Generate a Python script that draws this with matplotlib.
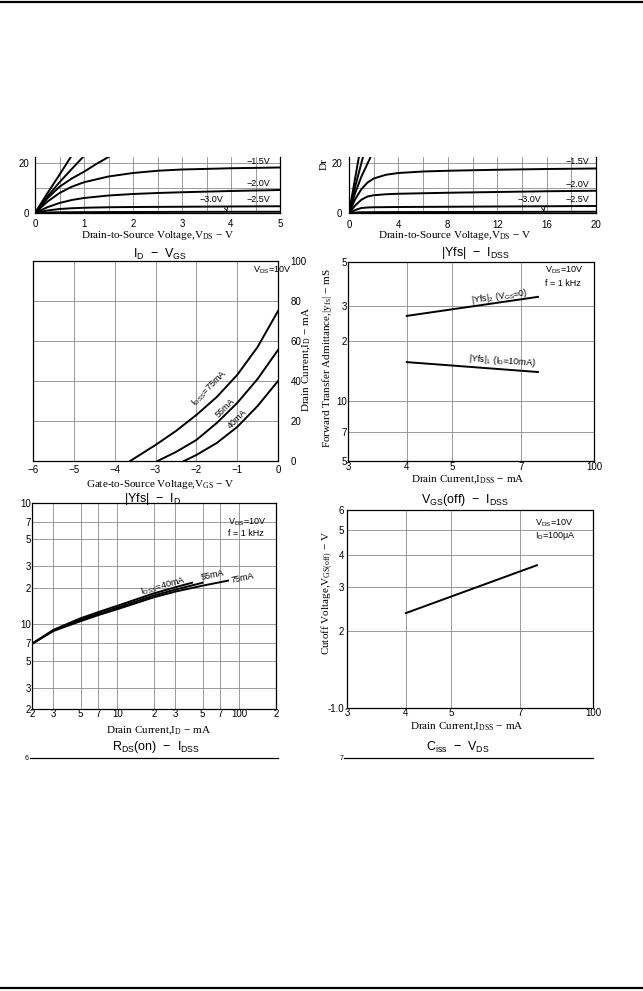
import matplotlib
matplotlib.use("Agg")
import matplotlib.pyplot as plt
from matplotlib.lines import Line2D
from matplotlib.ticker import NullLocator

plt.rcParams['font.family'] = ['Liberation Sans', 'DejaVu Sans']
plt.rcParams['axes.unicode_minus'] = True

# ---- data ----
# ID - VDS, 0..5 V (top left, partly cut)
vds_s = [0, 0.25, 0.5, 0.73]
id_s_vgs0 = [0, 7.8, 15.3, 22.4]
vds_s2 = [0, 0.25, 0.5, 0.75, 0.98]
id_s_vgs05 = [0, 6.5, 12.3, 17.6, 22.4]
vds_s3 = [0, 0.25, 0.5, 0.75, 1.0, 1.25, 1.5]
id_s_vgs10 = [0, 5.8, 10.5, 13.8, 16.5, 19.6, 22.4]
vds_short = [0, 0.25, 0.5, 0.75, 1.0, 1.5, 2, 2.5, 3, 4, 5]
id_s_vgs15 = [0, 4.5, 8.0, 10.5, 12.3, 14.6, 16.0, 16.9, 17.4, 17.9, 18.2]
id_s_vgs20 = [0, 2.3, 4.0, 5.2, 6.0, 7.0, 7.6, 8.0, 8.3, 8.8, 9.2]
id_s_vgs25 = [0, 1.0, 1.6, 1.9, 2.1, 2.3, 2.4, 2.45, 2.5, 2.6, 2.7]
id_s_vgs30 = [0, 0.2, 0.3, 0.32, 0.35, 0.38, 0.4, 0.42, 0.45, 0.48, 0.5]

# ID - VDS, 0..20 V (top right, partly cut)
vdl_a = [0, 0.8]
id_l_vgs0 = [0, 22.4]
vdl_b = [0, 0.5, 1.13]
id_l_vgs05 = [0, 10.5, 22.4]
vdl_c = [0, 0.5, 1.0, 1.75]
id_l_vgs10 = [0, 8.0, 14.5, 22.4]
vds_long = [0, 0.5, 1, 1.5, 2, 3, 4, 6, 8, 12, 16, 20]
id_l_vgs15 = [0, 5.5, 9.5, 12.2, 13.8, 15.3, 16.0, 16.6, 16.9, 17.3, 17.6, 17.8]
id_l_vgs20 = [0, 3.0, 5.3, 6.6, 7.1, 7.5, 7.7, 7.9, 8.1, 8.4, 8.7, 8.9]
id_l_vgs25 = [0, 1.2, 2.0, 2.2, 2.3, 2.35, 2.4, 2.45, 2.5, 2.6, 2.7, 2.8]
id_l_vgs30 = [0, 0.2, 0.3, 0.32, 0.35, 0.37, 0.38, 0.39, 0.4, 0.43, 0.47, 0.5]

# ID - VGS
vgs_75 = [-3.62, -3, -2.5, -2, -1.5, -1, -0.5, 0]
id_75 = [0, 8, 15, 23, 32, 43, 57, 75]
vgs_55 = [-2.95, -2.5, -2, -1.5, -1, -0.5, 0]
id_55 = [0, 4.5, 10.5, 19, 29, 41, 55.5]
vgs_40 = [-2.3, -2, -1.5, -1, -0.5, 0]
id_40 = [0, 3, 9, 17, 27.5, 40]

# |Yfs| - IDSS
idss_pts = [4, 7.6]
yfs2 = [26.8, 33.4]
yfs1 = [15.7, 14.0]

# |Yfs| - ID
id_40m = [2, 3, 5, 7, 10, 20, 30, 41]
yfs_40m = [6.9, 9.0, 11.2, 12.6, 14.2, 18.0, 20.2, 22.0]
id_55m = [2, 3, 5, 7, 10, 20, 30, 50]
yfs_55m = [6.9, 8.9, 10.9, 12.2, 13.7, 17.3, 19.3, 22.0]
id_75m = [2, 3, 5, 7, 10, 20, 30, 50, 81]
yfs_75m = [6.9, 8.8, 10.6, 11.9, 13.3, 16.7, 18.6, 20.8, 22.9]

# VGS(off) - IDSS
vgsoff = [2.36, 3.64]

# tick labels as printed
idss_ticks = [3, 4, 5, 7, 10]
idss_labels = ['3', '4', '5', '7', '100']
yfs_ticks = [5, 7, 10, 20, 30, 50]
yfs_labels = ['5', '7', '10', '2', '3', '5']
idlog_ticks = [2, 3, 5, 7, 10, 20, 30, 50, 70, 100, 200]
idlog_labels = ['2', '3', '5', '7', '10', '2', '3', '5', '7', '100', '2']
yfslog_ticks = [2, 3, 5, 7, 10, 20, 30, 50, 70, 100]
yfslog_labels = ['2', '3', '5', '7', '10', '2', '3', '5', '7', '10']
voff_ticks = [1, 2, 3, 4, 5, 6]
voff_labels = ['-1.0', '2', '3', '4', '5', '6']

# ---- figure ----
W, H = 643, 991
fig = plt.figure(figsize=(W / 100, H / 100), dpi=100)

SERIF = 'Liberation Serif'
GRID = dict(color='#8a8a8a', lw=0.6)
CURVE = dict(color='black', lw=1.4)


def box(l, t, r, b):
    return [l / W, 1 - b / H, (r - l) / W, (b - t) / H]


def ftext(x, y, s, **kw):
    kw.setdefault('ha', 'center')
    kw.setdefault('va', 'center')
    fig.text(x / W, 1 - y / H, s, **kw)


def style(ax, pad=2):
    for sp in ax.spines.values():
        sp.set_linewidth(0.9)
    ax.tick_params(which='both', length=0, labelsize=7, pad=pad)
    ax.set_axisbelow(True)


def sub(s):
    return r'$\mathregular{_{%s}}$' % s


# top left: ID - VDS (0..5 V), cut at top
ax = fig.add_axes(box(35, 157, 280, 213))
style(ax, pad=4)
ax.spines['top'].set_visible(False)
ax.set_xlim(0, 5)
ax.set_ylim(0, 22.4)
ax.set_xticks(range(6))
ax.set_xticks([0.5 * i for i in range(11)], minor=True)
ax.set_yticks([0, 20])
ax.set_yticks([10], minor=True)
ax.grid(which='both', **GRID)
for xs, ys in [(vds_s, id_s_vgs0), (vds_s2, id_s_vgs05), (vds_s3, id_s_vgs10),
               (vds_short, id_s_vgs15), (vds_short, id_s_vgs20),
               (vds_short, id_s_vgs25), (vds_short, id_s_vgs30)]:
    ax.plot(xs, ys, **CURVE)
ax.text(4.55, 20.8, '−1.5V', fontsize=6.5, ha='center', va='center')
ax.text(4.55, 11.8, '−2.0V', fontsize=6.5, ha='center', va='center')
ax.text(4.55, 5.2, '−2.5V', fontsize=6.5, ha='center', va='center')
ax.annotate('−3.0V', xy=(3.92, 0.5), xytext=(3.85, 5.2), fontsize=6.5,
            ha='right', va='center',
            arrowprops=dict(arrowstyle='->', lw=0.6, color='black',
                            connectionstyle='arc3,rad=-0.4'))
ftext(158, 236, 'Drain-to-Source Voltage,V' + sub('DS') + ' − V',
      fontsize=8, fontfamily=SERIF)

# top right: ID - VDS (0..20 V), cut at top
ax = fig.add_axes(box(349, 157, 596, 213))
style(ax, pad=5)
ax.spines['top'].set_visible(False)
ax.set_xlim(0, 20)
ax.set_ylim(0, 22.4)
ax.set_xticks(range(0, 21, 4))
ax.set_xticks(range(0, 21, 2), minor=True)
ax.set_yticks([0, 20])
ax.set_yticks([10], minor=True)
ax.grid(which='both', **GRID)
for xs, ys in [(vdl_a, id_l_vgs0), (vdl_b, id_l_vgs05), (vdl_c, id_l_vgs10),
               (vds_long, id_l_vgs15), (vds_long, id_l_vgs20),
               (vds_long, id_l_vgs25), (vds_long, id_l_vgs30)]:
    ax.plot(xs, ys, **CURVE)
ax.text(18.5, 20.6, '−1.5V', fontsize=6.5, ha='center', va='center')
ax.text(18.5, 11.4, '−2.0V', fontsize=6.5, ha='center', va='center')
ax.text(18.5, 5.2, '−2.5V', fontsize=6.5, ha='center', va='center')
ax.annotate('−3.0V', xy=(15.8, 0.5), xytext=(15.6, 5.2), fontsize=6.5,
            ha='right', va='center',
            arrowprops=dict(arrowstyle='->', lw=0.6, color='black',
                            connectionstyle='arc3,rad=-0.4'))
ftext(455, 236, 'Drain-to-Source Voltage,V' + sub('DS') + ' − V',
      fontsize=8, fontfamily=SERIF)
ftext(324, 164, 'Dr', fontsize=8, fontfamily=SERIF, rotation=90)

# middle left: ID - VGS
ax = fig.add_axes(box(33, 261, 278, 461))
style(ax, pad=3)
ax.set_xlim(-6, 0)
ax.set_ylim(0, 100)
ax.set_xticks(range(-6, 1))
ax.set_yticks(range(0, 101, 20))
ax.yaxis.tick_right()
ax.tick_params(axis='y', pad=9)
ax.grid(**GRID)
ax.plot(vgs_75, id_75, **CURVE)
ax.plot(vgs_55, id_55, **CURVE)
ax.plot(vgs_40, id_40, **CURVE)
ftext(160, 254, 'I' + sub('D') + '  −  V' + sub('GS'), fontsize=9)
ftext(253, 270, 'V' + sub('DS') + '=10V', fontsize=6.5, ha='left')
ftext(209, 388, 'I' + sub('DSS') + '=75mA', fontsize=6.5, rotation=45)
ftext(225, 408, '55mA', fontsize=6.5, rotation=45)
ftext(237, 419, '40mA', fontsize=6.5, rotation=45)
ftext(160, 484, 'Gate-to-Source Voltage,V' + sub('GS') + ' − V',
      fontsize=8, fontfamily=SERIF)
ftext(307, 360, 'Drain Current,I' + sub('D') + ' − mA', fontsize=8,
      fontfamily=SERIF, rotation=90)

# middle right: |Yfs| - IDSS
ax = fig.add_axes(box(348, 262, 594, 461))
style(ax, pad=1)
ax.set_xscale('log')
ax.set_yscale('log')
ax.set_xlim(3, 10)
ax.set_ylim(5, 50)
ax.set_xticks(idss_ticks, idss_labels)
ax.set_yticks(yfs_ticks, yfs_labels)
ax.xaxis.set_minor_locator(NullLocator())
ax.yaxis.set_minor_locator(NullLocator())
ax.grid(**GRID)
ax.plot(idss_pts, yfs2, **CURVE)
ax.plot(idss_pts, yfs1, **CURVE)
ftext(475, 253, '|Yfs|  −  I' + sub('DSS'), fontsize=9)
ftext(545, 270, 'V' + sub('DS') + '=10V', fontsize=6.5, ha='left')
ftext(545, 283, 'f = 1 kHz', fontsize=6.5, ha='left')
ftext(499, 297, '|Yfs|' + sub('2') + ' (V' + sub('GS') + '=0)',
      fontsize=6.5, rotation=8)
ftext(502, 361, '|Yfs|' + sub('1') + ' (I' + sub('D') + '=10mA)',
      fontsize=6.5, rotation=-4)
ftext(468, 480, 'Drain Current,I' + sub('DSS') + ' − mA', fontsize=8,
      fontfamily=SERIF)
ftext(327, 358, 'Forward Transfer Admittance,|y' + sub('fs') + '| − mS',
      fontsize=8, fontfamily=SERIF, rotation=90)

# bottom left: |Yfs| - ID
ax = fig.add_axes(box(32, 503, 276, 709))
style(ax, pad=1)
ax.set_xscale('log')
ax.set_yscale('log')
ax.set_xlim(2, 200)
ax.set_ylim(2, 100)
ax.set_xticks(idlog_ticks, idlog_labels)
ax.set_yticks(yfslog_ticks, yfslog_labels)
ax.xaxis.set_minor_locator(NullLocator())
ax.yaxis.set_minor_locator(NullLocator())
ax.tick_params(axis='x', pad=0)
ax.grid(**GRID)
ax.plot(id_40m, yfs_40m, **CURVE)
ax.plot(id_55m, yfs_55m, **CURVE)
ax.plot(id_75m, yfs_75m, **CURVE)
ftext(153, 499, '|Yfs|  −  I' + sub('D'), fontsize=9)
ftext(228, 522, 'V' + sub('DS') + '=10V', fontsize=6.5, ha='left')
ftext(228, 534, 'f = 1 kHz', fontsize=6.5, ha='left')
ftext(163, 586, 'I' + sub('DSS') + '=40mA', fontsize=6.5, rotation=15)
ftext(213, 575, '55mA', fontsize=6.5, rotation=12)
ftext(242, 578, '75mA', fontsize=6.5, rotation=12)
ftext(158, 731, 'Drain Current,I' + sub('D') + ' − mA', fontsize=8,
      fontfamily=SERIF)

# bottom right: VGS(off) - IDSS
ax = fig.add_axes(box(347, 510, 593, 708))
style(ax, pad=2)
ax.set_xscale('log')
ax.set_yscale('log')
ax.set_xlim(3, 10)
ax.set_ylim(1, 6)
ax.set_xticks(idss_ticks, idss_labels)
ax.set_yticks(voff_ticks, voff_labels)
ax.xaxis.set_minor_locator(NullLocator())
ax.yaxis.set_minor_locator(NullLocator())
ax.tick_params(axis='x', pad=0)
ax.grid(**GRID)
ax.plot(idss_pts, vgsoff, **CURVE)
ftext(465, 500, 'V' + sub('GS') + '(off)  −  I' + sub('DSS'), fontsize=9)
ftext(535, 523, 'V' + sub('DS') + '=10V', fontsize=6.5, ha='left')
ftext(535, 536, 'I' + sub('D') + '=100μA', fontsize=6.5, ha='left')
ftext(467, 727, 'Drain Current,I' + sub('DSS') + ' − mA', fontsize=8,
      fontfamily=SERIF)
ftext(327, 593, 'Cutoff Voltage,V' + sub('GS(off)') + ' − V', fontsize=8,
      fontfamily=SERIF, rotation=90)

# bottom, cut off: next pair of charts
ftext(156, 747, 'R' + sub('DS') + '(on)  −  I' + sub('DSS'), fontsize=9)
ftext(458, 747, 'C' + sub('iss') + '  −  V' + sub('DS'), fontsize=9)
fig.add_artist(Line2D([30 / W, 278 / W], [1 - 758 / H] * 2, color='black', lw=0.9))
fig.add_artist(Line2D([344 / W, 593 / W], [1 - 758 / H] * 2, color='black', lw=0.9))
ftext(27, 759, '6', fontsize=5)
ftext(342, 759, '7', fontsize=5)

# page rules
fig.add_artist(Line2D([0, 1], [1 - 2 / H] * 2, color='black', lw=1.6))
fig.add_artist(Line2D([0, 1], [1 - 988 / H] * 2, color='black', lw=1.6))

fig.savefig('out.png', dpi=100, facecolor='white')
